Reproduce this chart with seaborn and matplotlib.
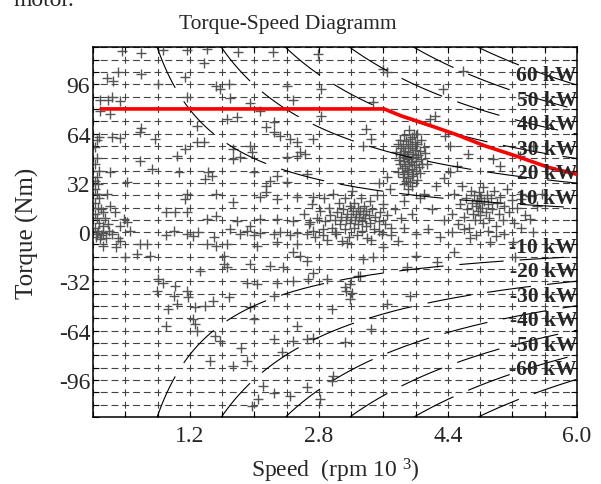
import numpy as np
import matplotlib
matplotlib.use("Agg")
import matplotlib.pyplot as plt
import seaborn as sns
from matplotlib.ticker import MultipleLocator

# operating points, (speed in 1000 rpm, torque in Nm)
upper_pts = [(0.36, 117.7), (0.60, 116), (1.16, 118), (1.80, 117), (1.37, 110), (0.31, 104), (0.17, 100),
             (0.60, 102.6), (0.25, 98), (1.14, 101), (0.81, 96), (1.53, 95), (1.68, 96), (1.57, 93),
             (2.40, 95), (2.79, 115.6), (0.09, 86), (0.19, 86), (0.23, 87.5), (0.33, 85), (1.16, 87.5),
             (1.70, 86.8), (1.95, 83.8), (2.48, 86), (0.21, 76.6), (0.09, 78.8), (2.07, 78.8), (1.78, 74.5),
             (1.66, 73.4), (2.24, 71.2), (2.15, 68), (1.29, 68.6), (0.60, 67.3), (0.58, 64.7), (2.24, 64.7),
             (2.32, 62.5), (0.07, 61.5), (0.23, 61.5), (0.33, 61.0), (0.77, 60.4), (1.29, 58.2), (1.37, 58.2),
             (1.95, 56), (1.74, 53.9), (1.97, 51.8), (2.44, 60.4), (2.53, 58.2), (2.57, 51.8), (2.73, 60.4),
             (1.14, 53.9), (1.04, 49.5), (0.58, 46.3), (1.74, 47.4), (1.82, 48.5), (2.40, 48.5), (2.53, 49.5),
             (2.63, 50.6), (0.21, 38.8), (0.73, 40.9), (1.06, 38.8), (1.43, 38.8), (1.47, 36.6), (1.39, 34.4),
             (1.99, 38.8), (2.28, 36.6), (2.65, 37.7), (0.42, 32.3), (2.19, 33.3), (2.15, 30), (2.40, 32.3),
             (0.17, 24.7), (1.16, 24.7), (1.14, 21.4), (1.53, 24.7), (1.74, 19.3), (2.07, 22.5), (2.15, 25.8),
             (2.28, 21.4), (2.53, 22.5), (2.73, 22.5), (0.21, 17), (0.27, 12.8), (0.38, 8.4), (0.91, 13.2),
             (1.02, 13.2), (1.16, 12.8), (1.41, 8.4), (1.53, 10.6), (1.78, 7.3), (1.95, 4.1), (2.07, 8.4),
             (2.28, 8.4), (2.48, 7.3), (2.69, 6.3), (0.42, 6.3), (0.33, 4.1), (0.46, 0.8), (1.16, -1.3),
             (0.87, 118), (1.41, 119), (2.23, 117),
             (3.64, 103.7), (3.60, 105.8), (4.59, 104.7), (4.34, 92.9), (2.83, 92.9), (3.47, 84.2),
             (2.83, 75.5), (3.39, 66.9), (3.35, 56), (3.45, 60.4), (4.18, 73.4), (4.24, 75.5), (4.36, 62.5),
             (4.43, 56), (4.65, 50.6), (4.43, 38.8), (4.51, 43), (4.96, 47.4), (5.05, 43), (5.29, 49.5),
             (5.46, 56), (5.42, 8.4), (5.31, 21.4), (5.42, 23.6), (5.56, 24.7), (5.50, 17),
             (3.55, 32), (3.65, 36), (4.25, 30), (4.35, 35), (4.05, 22), (4.20, 15), (4.35, 8), (3.85, 20),
             (3.95, 12), (4.10, 25)]

edge_pts = [(0.05, 60), (0.02, 55), (0.05, 48), (0.03, 44), (0.07, 40), (0.05, 36), (0.03, 33), (0.06, 31),
            (0.02, 28), (0.05, 25), (0.08, 22), (0.03, 19), (0.06, 16), (0.02, 12), (0.05, 9), (0.08, 6),
            (0.03, 3), (0.06, 1), (0.10, -2), (0.04, -3), (0.12, 4), (0.15, 9), (0.13, 13), (0.18, 5),
            (0.20, 1), (0.24, -1), (0.10, 15), (0.16, -4)]

lower_pts = [(0.05, -1.3), (0.09, -4.5), (0.31, -3.5), (0.33, -5.6), (0.58, -7.8), (0.67, -7.8), (0.13, -8.9),
             (0.29, -9.9), (0.40, -16.4), (0.54, -14.3), (0.71, -15.4), (1.24, -2.4), (1.41, -7.8),
             (1.53, -8.9), (1.66, -7.8), (1.62, -15.4), (1.62, -20.8), (1.66, -22.9), (1.33, -25.1),
             (1.95, -20.8), (2.19, -21.9), (2.36, -22.9), (2.57, -15.4), (2.65, -18.6), (2.48, -13.2),
             (2.53, -7.8), (2.28, -6.7), (2.03, -8.9), (2.73, -26.2), (1.91, -32.7), (2.03, -33.8),
             (2.28, -32.7), (2.48, -31.6), (2.67, -30.5), (0.81, -30.5), (0.87, -32.7), (1.02, -34.9),
             (0.79, -38.1), (1.00, -41.4), (1.16, -38.1), (1.18, -42.4), (1.04, -46.8), (0.93, -50),
             (1.26, -48.9), (1.39, -47.9), (1.49, -44.6), (1.68, -42.4), (2.24, -41.4), (1.95, -48.9),
             (1.99, -56.5), (1.24, -56.5), (1.26, -59.7), (0.91, -60.8), (1.29, -64.1), (1.51, -67.3),
             (1.57, -70.6), (2.24, -69.5), (2.48, -70.6), (2.65, -69.5), (2.73, -68.4), (2.53, -60.8),
             (1.84, -74.9), (2.34, -78.1), (1.91, -83.6), (1.45, -83.6), (1.74, -86.8), (2.11, -99.8),
             (2.05, -108.4), (2.24, -104.1), (2.44, -106.3), (2.65, -100.8), (1.97, -112.8),
             (3.89, -22.9), (4.26, -19.7), (4.01, -15.4), (3.31, -28.4), (2.90, -30.5), (3.12, -35.9),
             (3.21, -39.2), (3.19, -43.5), (2.96, -50), (3.93, -41.4), (3.64, -46.8), (3.45, -63),
             (3.12, -71.6), (2.96, -96.5), (2.98, -93.3), (2.81, -108.4), (5.21, -6.7), (4.47, -13.2),
             (4.67, -3.5), (5.00, -2.4), (4.92, -6.7), (5.23, -16.4), (3.60, -9.9), (3.47, -16.4),
             (3.35, -17.5), (3.29, -28.4), (3.19, -33.8), (3.14, -38.1)]

zero_pts = [(0.13, -0.5), (1.82, -1), (1.91, 0.5), (1.99, -2), (2.07, -0.5), (2.24, -1.5), (2.32, 0),
            (2.44, -2), (2.53, -0.5), (2.65, -1), (2.73, 0.5), (0.90, -2), (1.00, 1), (1.30, 0),
            (1.50, -3), (1.70, 2), (3.55, 1), (3.70, -2), (3.85, 3), (4.00, -1), (4.15, 2), (4.30, -3),
            (4.45, 0), (4.60, 2), (4.75, -2), (4.90, 1), (5.10, -1), (5.30, 3), (5.45, 0), (2.85, -2),
            (3.00, 0), (3.15, -7), (3.45, -5)]

cluster_a = [(3.92, 66), (3.98, 64), (3.86, 63), (3.95, 62), (4.02, 63.5), (3.80, 60), (3.88, 59), (3.93, 60.5),
             (3.99, 58.5), (4.06, 60), (3.78, 57), (3.84, 56), (3.90, 57.5), (3.96, 56), (4.02, 57),
             (4.10, 55.5), (3.82, 54.5), (3.87, 53), (3.93, 54.5), (3.99, 53.5), (4.05, 52.5), (3.76, 52),
             (3.81, 51), (3.86, 50.5), (3.91, 52), (3.97, 51), (4.03, 50), (4.12, 51.5), (3.84, 48.5),
             (3.89, 49.5), (3.95, 48), (4.00, 49), (4.07, 47.5), (3.79, 47), (3.85, 46), (3.90, 47.5),
             (3.94, 45.5), (4.01, 46), (4.08, 44.5), (3.80, 44), (3.87, 43), (3.92, 44.5), (3.98, 43.5),
             (4.04, 42.5), (4.14, 44), (3.83, 41.5), (3.89, 40.5), (3.95, 41), (4.00, 39.5), (3.78, 39),
             (3.86, 38), (3.91, 39), (3.97, 37.5), (4.05, 38.5), (3.84, 36), (3.90, 35), (3.96, 36.5),
             (3.88, 33.5), (3.93, 32.5), (4.02, 34), (3.86, 31), (3.95, 30), (3.91, 28)]

cluster_b = [(2.62, 12), (2.68, 5), (2.72, 18), (2.75, -3), (2.78, 9), (2.82, 14), (2.85, 2), (2.86, 22),
             (2.88, 7), (2.90, -5), (2.92, 16), (2.94, 11), (2.96, 3), (2.98, 25), (3.00, 8), (3.01, -1),
             (3.03, 13), (3.05, 19), (3.06, 5), (3.08, 10), (3.09, -6), (3.10, 15), (3.12, 2), (3.13, 22),
             (3.14, 8), (3.15, 12), (3.17, -3), (3.18, 17), (3.19, 6), (3.20, 10), (3.21, 27), (3.22, 14),
             (3.23, 3), (3.24, 19), (3.25, 8), (3.26, 12), (3.27, -2), (3.28, 16), (3.29, 5), (3.30, 10),
             (3.31, 14), (3.32, 22), (3.33, 7), (3.34, 1), (3.35, 12), (3.36, 17), (3.37, 9), (3.38, 4),
             (3.39, 14), (3.40, -4), (3.42, 11), (3.43, 20), (3.44, 6), (3.46, 15), (3.48, 2), (3.50, 10),
             (3.52, 24), (3.54, 7), (3.56, 13), (3.58, -1), (3.60, 18), (3.62, 5), (3.65, 11), (3.68, 28),
             (3.70, 3), (3.74, 15), (3.78, -6), (3.82, 9)]

cluster_c = [(4.45, 12), (4.48, 25), (4.52, 5), (4.55, 18), (4.58, 30), (4.60, 10), (4.62, 22), (4.64, 15),
             (4.66, 3), (4.68, 27), (4.70, 19), (4.71, 12), (4.72, 24), (4.74, 8), (4.75, 17), (4.76, 21),
             (4.77, 14), (4.78, 26), (4.79, 19), (4.80, 11), (4.81, 22), (4.82, 16), (4.83, 6), (4.84, 29),
             (4.85, 20), (4.87, 13), (4.88, 24), (4.90, 18), (4.91, 9), (4.93, 22), (4.95, 15), (4.97, 27),
             (4.99, 4), (5.01, 19), (5.03, 12), (5.05, 23), (5.08, 8), (5.10, 17), (5.13, 28), (5.16, 13),
             (5.19, 21), (5.22, 6), (5.26, 16), (5.30, 25), (5.35, 11)]

# torque limit (red)
limit_speed = [0.1, 3.61, 3.82, 4.07, 4.49, 4.86, 5.24, 5.65, 6.0]
limit_torque = [80, 80, 75.5, 71.2, 63.6, 56, 49.5, 42, 37.5]

power_kw = [10, 20, 30, 40, 50, 60]
x_ticks = [1.2, 2.8, 4.4, 6.0]
x_labels = ["1.2", "2.8", "4.4", "6.0"]
y_ticks = [-96, -64, -32, 0, 32, 64, 96]
y_labels = ["-96", "-64", "-32", "0", "32", "64", "96"]

sns.set_style("ticks")
plt.rcParams['font.family'] = ['Liberation Serif', 'DejaVu Serif']
plt.rcParams['mathtext.fontset'] = 'custom'
plt.rcParams['mathtext.rm'] = 'Liberation Serif'
plt.rcParams['mathtext.default'] = 'regular'
plt.rcParams['lines.scale_dashes'] = False

fig = plt.figure(figsize=(6.01, 4.85), dpi=100)
ax = fig.add_axes([93 / 601, 67 / 485, 484 / 601, 369.7 / 485])

pts = upper_pts + edge_pts + lower_pts + zero_pts + cluster_a + cluster_b + cluster_c
spd = [p[0] for p in pts]
trq = [p[1] for p in pts]
sns.scatterplot(x=spd, y=trq, marker='+', s=55, color='#555555', linewidth=1.0,
                ax=ax, zorder=2, legend=False)

# constant power lines, T = P / omega
for P in power_kw:
    sp = np.linspace(9.549 * P / 120, 6.0, 400)
    for sign in (1, -1):
        ax.plot(sp, sign * 9.549 * P / sp, color='black', lw=0.8,
                linestyle=(0, (32, 11.5)), zorder=3)
        lab = f"{P} kW" if sign > 0 else f"-{P} kW"
        ax.text(6.0, sign * 9.549 * P / 6.0, lab, ha='right', va='bottom',
                fontsize=15.5, fontweight='bold', zorder=5)

sns.lineplot(x=limit_speed, y=limit_torque, color='red', linewidth=2.6, sort=False,
             estimator=None, ax=ax, zorder=4)

ax.set_xlim(0, 6)
ax.set_ylim(-120, 120)
ax.set_xticks(x_ticks, labels=x_labels)
ax.set_yticks(y_ticks, labels=y_labels)
ax.xaxis.set_minor_locator(MultipleLocator(0.4))
ax.yaxis.set_minor_locator(MultipleLocator(8))

ax.yaxis.grid(True, which='both', color='#444444', linewidth=0.8, linestyle=(2.5, (5.0, 2.74)))
ax.xaxis.grid(True, which='both', color='#444444', linewidth=0.8, linestyle=(2.5, (5.0, 3.87)))
ax.set_axisbelow(True)

for s in ax.spines.values():
    s.set_linewidth(1.1)
    s.set_color('black')
ax.tick_params(which='both', direction='in', top=True, right=True, length=4, width=0.8, color='black')
ax.tick_params(axis='both', labelsize=17)
ax.tick_params(axis='x', pad=6)
ax.tick_params(axis='y', pad=2)

ax.set_xlabel(r"Speed  (rpm 10 $^3$)", fontsize=17, va='top')
ax.xaxis.set_label_coords(0.5, -0.106)
ax.set_ylabel("Torque (Nm)", fontsize=18)
ax.yaxis.set_label_coords(-0.112, 0.5)

fig.text(288 / 601, 1 - 25 / 485, "Torque-Speed Diagramm", ha='center', va='center', fontsize=15.5)
fig.text(13 / 601, 1 - 6 / 485, "motor.", ha='left', va='baseline', fontsize=17)

fig.savefig("out.png", dpi=100)
